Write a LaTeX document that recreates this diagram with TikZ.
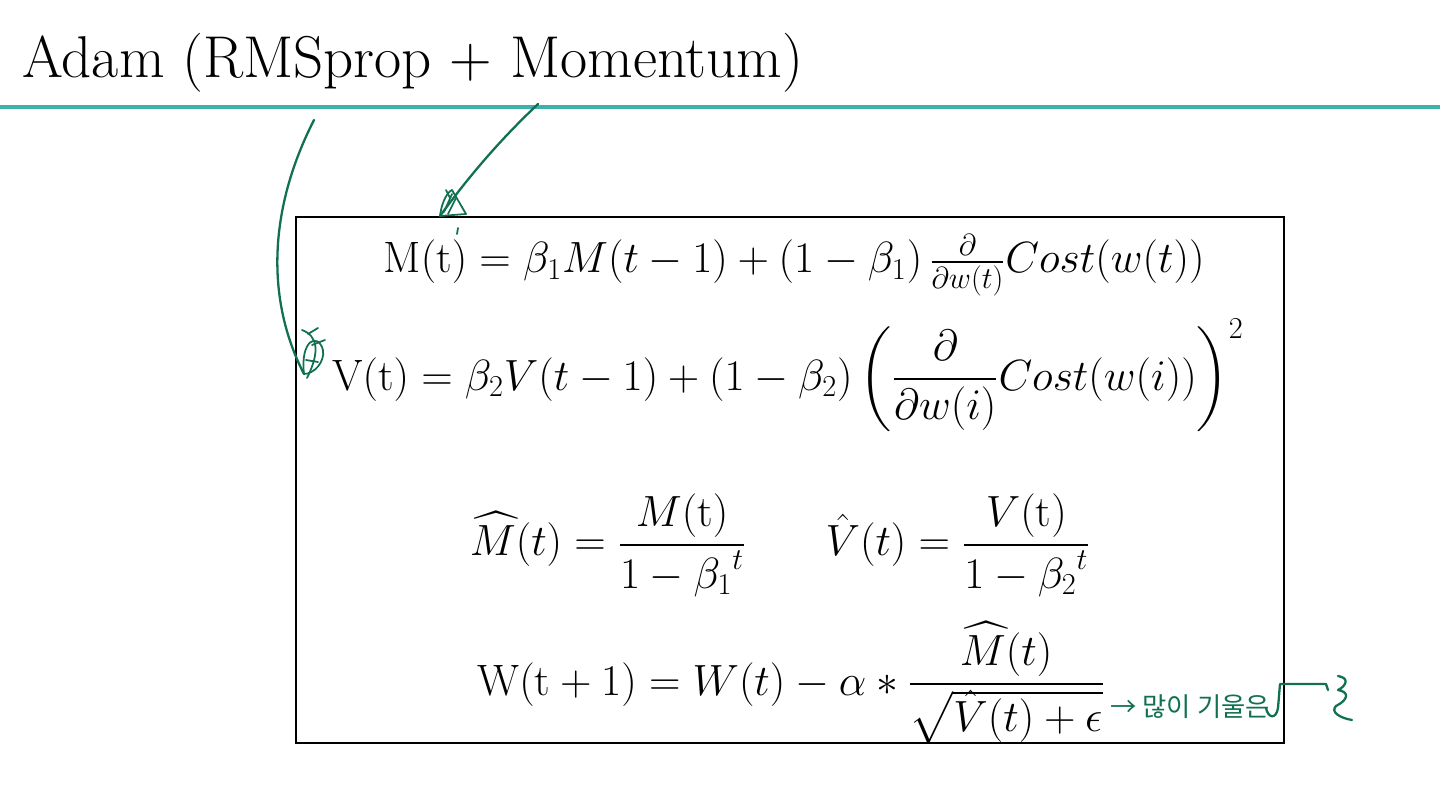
\documentclass[tikz,border=0pt]{standalone}
\usepackage{amsmath}
\usepackage{fontspec}
\newfontfamily\hangul{Noto Sans CJK KR}
\usetikzlibrary{calc}
\definecolor{slideteal}{RGB}{64,176,170}
\definecolor{penGreen}{RGB}{18,112,82}
\tikzset{
  eqn/.style={inner sep=0pt, font=\fontsize{25}{30}\selectfont},
  pen/.style={draw=penGreen, line width=1.3pt, line cap=round, line join=round},
}

\begin{document}
\begin{tikzpicture}[x=0.02cm, y=-0.02cm]
			%%%%% START %%%%%
			\useasboundingbox (0, 0) rectangle (1440, 804);
			
			\node[anchor=base west, inner sep=0pt, font=\fontsize{33.6}{40}\selectfont] (title) at (22, 78) {Adam (RMSprop + Momentum)};
			\draw[slideteal, line width=2.2pt] (0, 107) -- (1440, 107);
			
			\draw[line width=1.2pt] (296, 217) rectangle (1284, 743);
			
			\node[eqn, anchor=base] (eqM) at (794, 273) {$\mathrm{M(t)} = \beta_1 M(t-1) + (1-\beta_1)\, \tfrac{\partial}{\partial w(t)} Cost(w(t))$};
			\node[eqn, anchor=base] (eqV) at (788, 390) {$\displaystyle \mathrm{V(t)} = \beta_2 V(t-1) + (1-\beta_2) \left(\frac{\partial}{\partial w(i)} Cost(w(i))\right)^{2}$};
			\node[eqn] (eqMhat) at (608, 545) {$\displaystyle \widehat{M}(t) = \frac{M(\mathrm{t})}{1-{\beta_1}^{t}}$};
			\node[eqn] (eqVhat) at (958, 545) {$\displaystyle \hat{V}(t) = \frac{V(\mathrm{t})}{1-{\beta_2}^{t}}$};
			\node[eqn] (eqW) at (791, 683) {$\displaystyle \mathrm{W(t+1)} = W(t) - \alpha * \frac{\widehat{M}(t)}{\sqrt{\smash[t]{\hat{V}}(t) + \epsilon}}$};
			
			% handwritten notes
			\coordinate (rmsTail) at (314, 120);
			\coordinate (rmsTip) at (304, 374);
			\coordinate (momTail) at (538, 104);
			\coordinate (momTip) at (440, 216);
			
			\draw[pen] (rmsTail) .. controls (268, 210) and (266, 300) .. (rmsTip);
			\draw[pen, line width=1pt] (rmsTip) .. controls (300, 340) and (318, 332) .. (323, 350) .. controls (325, 362) and (314, 374) .. (rmsTip);
			\draw[pen, line width=1pt] (302, 330) .. controls (318, 336) and (320, 352) .. (307, 378);
			\draw[pen, line width=1pt] (308, 334) -- (318, 328) (312, 345) -- (325, 340) (306, 360) -- (318, 362);
			
			\draw[pen] (momTail) .. controls (500, 140) and (470, 175) .. (momTip);
			\draw[pen, line width=1pt] (momTip) .. controls (442, 200) and (448, 192) .. (452, 190) -- (466, 214) -- (momTip);
			\draw[pen, line width=1pt] (444, 212) -- (452, 194) (448, 214) -- (456, 198) (446, 190) -- (450, 198);
			\draw[pen, line width=1pt] (458, 228) -- (457, 234);
			
			\node[anchor=base west, inner sep=0pt, text=penGreen, font=\hangul\fontsize{15}{18}\selectfont] (note) at (1110, 716) {→ 많이 기울은};
			\draw[pen] (1266, 708) .. controls (1268, 718) and (1276, 720) .. (1278, 708) -- (1280, 684) -- (1326, 684) -- (1328, 690);
			\draw[pen] (1338, 676) .. controls (1350, 678) and (1346, 686) .. (1338, 690) .. controls (1350, 692) and (1348, 700) .. (1336, 706) .. controls (1330, 712) and (1340, 718) .. (1352, 720);
			%%%%% END %%%%%
\end{tikzpicture}
\end{document}
